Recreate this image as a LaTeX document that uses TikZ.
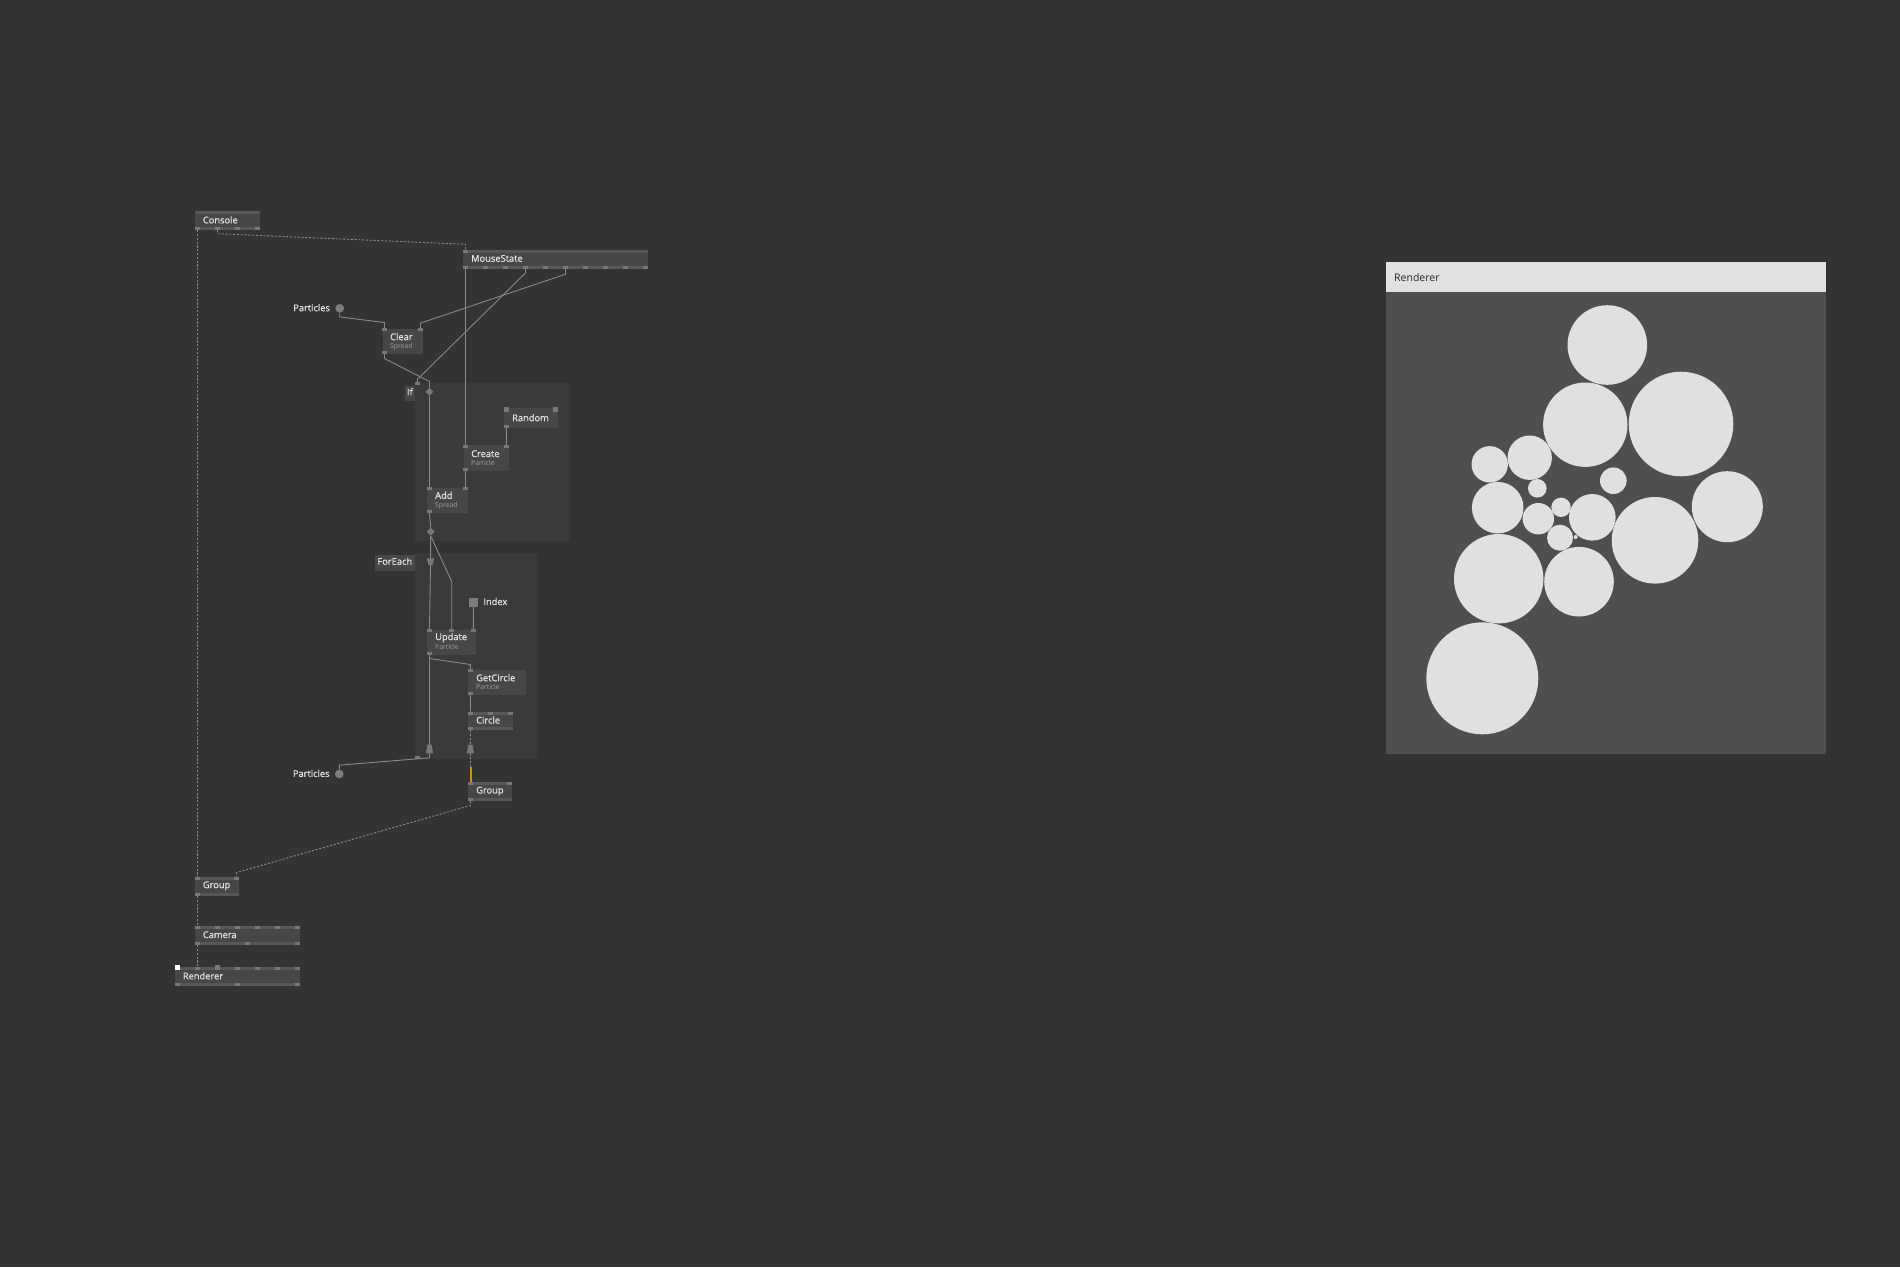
\documentclass[tikz,border=0pt]{standalone}
\usepackage{fontspec}
\setmainfont{Open Sans}
\newfontfamily\nodefont[FakeBold=0.6]{Open Sans}
\usepackage{tikz}
\usetikzlibrary{shapes.geometric}
\definecolor{bgc}{HTML}{333333}
\definecolor{regc}{HTML}{3A3A3A}
\definecolor{boxc}{HTML}{474747}
\definecolor{stripc}{HTML}{575757}
\definecolor{pinc}{HTML}{787878}
\definecolor{dotc}{HTML}{7C7C7C}
\definecolor{wirec}{HTML}{898989}
\definecolor{txtc}{HTML}{E2E6EA}
\definecolor{subc}{HTML}{9A9EA2}
\definecolor{goldc}{HTML}{C9961A}
\definecolor{circc}{HTML}{E0E0E0}
\definecolor{rendc}{HTML}{4F4F4F}
\definecolor{barc}{HTML}{E1E1E1}

\begin{document}
\begin{tikzpicture}[x=1pt, y=-1pt,
            box/.style = {rectangle, fill=boxc, inner sep=0, anchor=north west},
            region/.style = {rectangle, fill=regc, inner sep=0, anchor=north west},
            pin/.style = {rectangle, fill=pinc, inner sep=0,
                          minimum width=4.5pt, minimum height=2.7pt},
            bpin/.style = {pin, minimum width=5pt, minimum height=3pt},
            ttl/.style = {anchor=west, inner sep=0, text=txtc,
                          font=\nodefont\fontsize{9.3}{11}\selectfont},
            sub/.style = {anchor=west, inner sep=0, text=subc,
                          font=\fontsize{6.8}{8}\selectfont},
            wire/.style = {draw=wirec, line width=0.9pt},
            dwire/.style = {wire, dash pattern=on 2.2pt off 1.6pt},
            goldwire/.style = {draw=goldc, line width=2pt},
            dot/.style = {circle, fill=dotc, inner sep=0, minimum size=8.7pt},
            gate/.style = {diamond, fill=pinc, inner sep=0, minimum size=8pt}]
  \fill[bgc] (0,0) rectangle (1900,1267);
  \useasboundingbox (0,0) rectangle (1900,1267);

  % regions
  \node[region, minimum width=155pt, minimum height=158.3pt] (ifreg) at (415,382.7) {};
  \node[region, minimum width=122.7pt, minimum height=205.6pt] (fereg) at (415,552.7) {};
  \node[box, minimum width=10.7pt, minimum height=15pt] (iftag) at (404.3,385.7) {};
  \node[ttl, anchor=center] at ([yshift=1.8pt]iftag.center) {If};
  \node[box, minimum width=40pt, minimum height=15.7pt] (fetag) at (375,555) {};
  \node[ttl] at ([xshift=2.3pt,yshift=1.8pt]fetag.west) {ForEach};
  \node[pin, minimum width=5pt] (if-i) at (417.5,383.8) {};

  % Console
  \node[box, minimum width=65pt, minimum height=19pt] (console) at (195,211) {};
  \fill[stripc] (console.north west) rectangle ++(65,3);
  \fill[stripc] (console.south west) rectangle ++(65,-3);
  \node[ttl] at ([xshift=7.7pt,yshift=0.8pt]console.west) {Console};
  \foreach \i in {1,...,4}
    \node[bpin] (con-o\i) at (177.5+20*\i,228.5) {};

  % MouseState
  \node[box, minimum width=185pt, minimum height=19pt] (mouse) at (463,250) {};
  \fill[stripc] (mouse.north west) rectangle ++(185,3);
  \fill[stripc] (mouse.south west) rectangle ++(185,-3);
  \node[ttl] at ([xshift=8pt,yshift=1.3pt]mouse.west) {MouseState};
  \node[bpin] (ms-i1) at (465.5,251.5) {};
  \foreach \i in {1,...,10}
    \node[bpin] (ms-o\i) at (445.5+20*\i,267.5) {};

  % Particles in
  \node[dot] (parts1) at (339.7,308.3) {};
  \node[ttl, anchor=east] at ([xshift=-5pt,yshift=0.6pt]parts1.west) {Particles};

  % Clear
  \node[box, minimum width=40.4pt, minimum height=25.7pt] (clear) at (382.3,328.3) {};
  \node[ttl] at ([shift={(7.7,8.4)}]clear.north west) {Clear};
  \node[sub] at ([shift={(7.7,18)}]clear.north west) {Spread};
  \node[pin] (cl-i1) at (384.5,329.65) {};
  \node[pin] (cl-i2) at (420.5,329.65) {};
  \node[pin] (cl-o1) at (384.5,352.65) {};

  % If
  \node[gate] (if-d) at (429.5,391.7) {};

  % Random
  \node[box, minimum width=53.7pt, minimum height=20.4pt] (random) at (504,407.3) {};
  \node[ttl] at ([shift={(8,10.4)}]random.north west) {Random};
  \node[pin, minimum width=4.7pt, minimum height=4.7pt] (rnd-i1) at (506.35,409.65) {};
  \node[pin, minimum width=4.7pt, minimum height=4.7pt] (rnd-i2) at (555.35,409.65) {};
  \node[pin] (rnd-o1) at (506.35,426.35) {};

  % Create
  \node[box, minimum width=45.4pt, minimum height=25.7pt] (create) at (463.3,445) {};
  \node[ttl] at ([shift={(7.7,8.7)}]create.north west) {Create};
  \node[sub] at ([shift={(7.7,18.3)}]create.north west) {Particle};
  \node[pin] (cr-i1) at (465.5,446.35) {};
  \node[pin] (cr-i2) at (506.3,446.35) {};
  \node[pin] (cr-o1) at (465.5,469.35) {};

  % Add
  \node[box, minimum width=40.7pt, minimum height=25.4pt] (add) at (427,487.3) {};
  \node[ttl] at ([shift={(8,8)}]add.north west) {Add};
  \node[sub] at ([shift={(8,18.4)}]add.north west) {Spread};
  \node[pin] (add-i1) at (429.5,488.65) {};
  \node[pin] (add-i2) at (465.5,488.65) {};
  \node[pin] (add-o1) at (429.5,511.35) {};
  \node[gate] (add-d) at (430.7,531.7) {};

  % ForEach
  \coordinate (fe-in) at (430.5,561.7);
  \fill[pinc] ([shift={(-3.7,-3.4)}]fe-in) -- ++(7.4,0) -- ++(-1.7,6.8) -- ++(-4,0) -- cycle;
  \node[rectangle, fill=dotc, inner sep=0, minimum size=8.4pt] (index) at (473.5,602.5) {};
  \node[ttl] at ([xshift=5.3pt,yshift=1pt]index.east) {Index};

  % Update
  \node[box, minimum width=48.7pt, minimum height=25.4pt] (update) at (427,629.3) {};
  \node[ttl] at ([shift={(8,8.4)}]update.north west) {Update};
  \node[sub] at ([shift={(8,18)}]update.north west) {Particle};
  \node[pin] (up-i1) at (429.5,630.65) {};
  \node[pin] (up-i2) at (451.7,630.65) {};
  \node[pin] (up-i3) at (473.3,630.65) {};
  \node[pin] (up-o1) at (429.5,653.35) {};

  % GetCircle
  \node[box, minimum width=58pt, minimum height=25.7pt] (getc) at (468,669.3) {};
  \node[ttl] at ([shift={(8,8.4)}]getc.north west) {GetCircle};
  \node[sub] at ([shift={(8,18)}]getc.north west) {Particle};
  \node[pin] (gc-i1) at (470.3,670.65) {};
  \node[pin] (gc-o1) at (470.3,693.65) {};

  % Circle
  \node[box, minimum width=44.7pt, minimum height=18.3pt] (circ) at (468,711.7) {};
  \fill[stripc] (circ.north west) rectangle ++(44.7,3);
  \fill[stripc] (circ.south west) rectangle ++(44.7,-3);
  \node[ttl] at ([xshift=8pt,yshift=1pt]circ.west) {Circle};
  \node[bpin] (ci-i1) at (470.5,713.2) {};
  \node[bpin] (ci-i2) at (490.6,713.2) {};
  \node[bpin] (ci-i3) at (510.2,713.2) {};
  \node[bpin] (ci-o1) at (470.5,728.5) {};

  % ForEach outputs
  \coordinate (fe-out1) at (429.5,749);
  \coordinate (fe-out2) at (470.4,749);
  \foreach \f in {fe-out1,fe-out2}
    \fill[pinc] ([shift={(-2,-4.35)}]\f) -- ++(4,0) -- ++(1.7,8.7) -- ++(-7.4,0) -- cycle;
  \node[pin] (fe-pin) at (417.5,757.3) {};
  \node[dot] (parts2) at (339.3,774) {};
  \node[ttl, anchor=east] at ([xshift=-5pt,yshift=0.6pt]parts2.west) {Particles};
  \coordinate (gold) at (470.5,766.7);

  % Group (inner)
  \node[box, minimum width=44pt, minimum height=19pt] (group1) at (468,782) {};
  \fill[stripc] (group1.north west) rectangle ++(44,3);
  \fill[stripc] (group1.south west) rectangle ++(44,-3);
  \node[ttl] at ([xshift=8pt,yshift=0.5pt]group1.west) {Group};
  \node[bpin] (g1-i1) at (470.5,783.5) {};
  \node[bpin] (g1-i2) at (509.5,783.5) {};
  \node[bpin] (g1-o1) at (470.5,799.5) {};

  % Group (outer)
  \node[box, minimum width=44pt, minimum height=19pt] (group2) at (195,876.7) {};
  \fill[stripc] (group2.north west) rectangle ++(44,3);
  \fill[stripc] (group2.south west) rectangle ++(44,-3);
  \node[ttl] at ([xshift=7.7pt,yshift=0.5pt]group2.west) {Group};
  \node[bpin] (g2-i1) at (197.5,878.2) {};
  \node[bpin] (g2-i2) at (236.5,878.2) {};
  \node[bpin] (g2-o1) at (197.5,894.2) {};

  % Camera
  \node[box, minimum width=105pt, minimum height=19pt] (camera) at (195,926) {};
  \fill[stripc] (camera.north west) rectangle ++(105,3);
  \fill[stripc] (camera.south west) rectangle ++(105,-3);
  \node[ttl] at ([xshift=7.7pt,yshift=1pt]camera.west) {Camera};
  \foreach \i in {1,...,6}
    \node[bpin] (cam-i\i) at (177.5+20*\i,927.5) {};
  \foreach \i/\px in {1/197.5,2/247.5,3/297.5}
    \node[bpin] (cam-o\i) at (\px,943.5) {};

  % Renderer
  \node[box, minimum width=125pt, minimum height=18.7pt] (render) at (175,967.3) {};
  \fill[stripc] (render.north west) rectangle ++(125,3);
  \fill[stripc] (render.south west) rectangle ++(125,-3);
  \node[ttl] at ([xshift=7.7pt,yshift=1pt]render.west) {Renderer};
  \foreach \i in {1,...,6}
    \node[bpin] (rn-i\i) at (177.5+20*\i,968.8) {};
  \node[pin, minimum width=5pt, minimum height=5pt] at (217.5,967.5) {};
  \node[pin, fill=white, minimum width=5pt, minimum height=5pt] (rn-win) at (177.5,967.5) {};
  \foreach \i/\px in {1/177.5,2/237.5,3/297.5}
    \node[bpin] (rn-o\i) at (\px,984.5) {};

  % links
  \draw[dwire] (con-o2.south) -- ++(0,3.5) -- ([yshift=5.5pt]ms-i1.north) -- (ms-i1.north);
  \draw[dwire] (con-o1.south) -- (g2-i1.north);
  \draw[wire] (ms-o1.south) -- (cr-i1.north);
  \draw[wire] (ms-o4.south) -- ++(0,3.7) -- ([yshift=3pt]if-i.north) -- (if-i.north);
  \draw[wire] (ms-o6.south) -- ++(0,5) -- ([yshift=5pt]cl-i2.north) -- (cl-i2.north);
  \draw[wire] (parts1.south) -- ++(0,4) -- ([yshift=5.5pt]cl-i1.north) -- (cl-i1.north);
  \draw[wire] (cl-o1.south) -- ++(0,4.3) -- ([yshift=6pt]if-d.north) -- (if-d.north);
  \draw[wire] (if-d.south) -- (add-i1.north);
  \draw[wire] (rnd-o1.south) -- (cr-i2.north);
  \draw[wire] (cr-o1.south) -- (add-i2.north);
  \draw[wire] (add-o1.south) -- (add-d.north);
  \draw[wire] (add-d.south) -- ([yshift=3.4pt]fe-in);
  \draw[wire] (add-d.south) -- ([yshift=47.6pt]up-i2.north) -- (up-i2.north);
  \draw[wire] ([yshift=-3.4pt]fe-in) -- (up-i1.north);
  \draw[wire] (index.south) -- (up-i3.north);
  \draw[wire] (up-o1.south) -- ++(0,3.6) -- ([yshift=4.6pt]gc-i1.north) -- (gc-i1.north);
  \draw[wire] (up-o1.south) -- ([yshift=4.35pt]fe-out1);
  \draw[wire] (gc-o1.south) -- (ci-i1.north);
  \draw[dwire] (ci-o1.south) -- ([yshift=4.35pt]fe-out2);
  \draw[wire] ([yshift=-4.35pt]fe-out1) -- ++(0,4.5) -- ([yshift=4.3pt]parts2.north) -- (parts2.north);
  \draw[dwire] ([yshift=-4.35pt]fe-out2) -- (gold);
  \draw[goldwire] (gold) -- (g1-i1.north);
  \draw[dwire] (g1-o1.south) -- ++(0,4.3) -- ([yshift=4pt]g2-i2.north) -- (g2-i2.north);
  \draw[dwire] (g2-o1.south) -- (cam-i1.north);
  \draw[dwire] (cam-o1.south) -- (rn-i1.north);

  % renderer window
  \node[rectangle, fill=rendc, inner sep=0, anchor=north west,
        minimum width=440pt, minimum height=491.7pt] (win) at (1386,262.3) {};
  \fill[barc] (win.north west) rectangle ++(440,29.4);
  \node[anchor=west, inner sep=0, text=black!85, font=\fontsize{10.5}{12}\selectfont]
    at ([shift={(8,15)}]win.north west) {Renderer};
  \foreach \cx/\cy/\r in {1607.3/345/39.8, 1585.3/424.7/42.2, 1681/424/52.3,
      1489.7/464.3/18.2, 1529.7/457.7/22.2, 1613.3/480.7/13.3, 1537.3/488.3/9.3,
      1497.7/507.7/25.8, 1538.3/518.7/15.7, 1561/507.3/9.7, 1592.3/517.3/23.3,
      1560/537.7/13, 1575.7/537/2, 1727.3/506.7/35.5, 1655/540.3/43.3,
      1498.7/578.7/44.7, 1579/581.7/34.8, 1482.3/678.3/56}
    \fill[circc] (\cx,\cy) circle (\r);
\end{tikzpicture}
\end{document}
